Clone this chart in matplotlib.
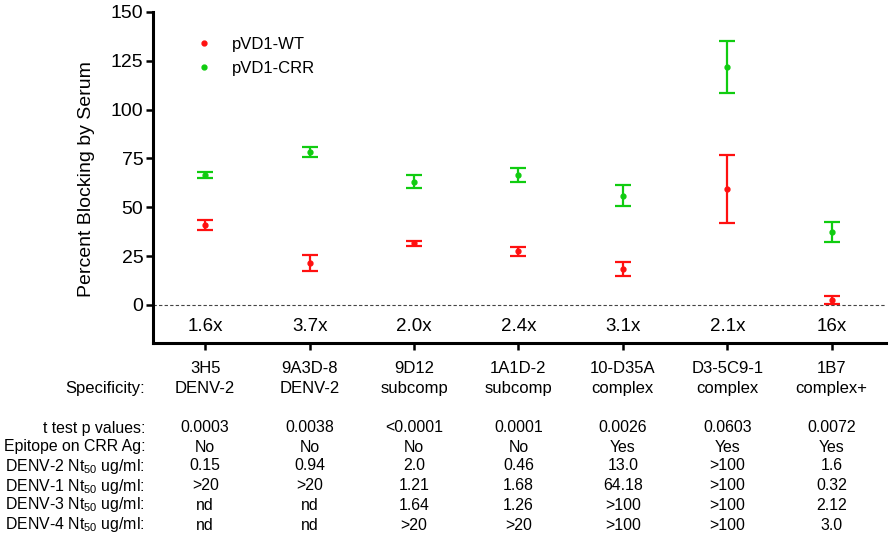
import matplotlib
matplotlib.use("Agg")
import matplotlib.pyplot as plt
from matplotlib.transforms import blended_transform_factory

plt.rcParams['font.family'] = ['Liberation Sans', 'DejaVu Sans']
plt.rcParams['mathtext.fontset'] = 'custom'
plt.rcParams['mathtext.rm'] = 'Liberation Sans'
plt.rcParams['mathtext.it'] = 'Liberation Sans:italic'
plt.rcParams['mathtext.bf'] = 'Liberation Sans:bold'
plt.rcParams['mathtext.default'] = 'regular'

antibodies = ["3H5", "9A3D-8", "9D12", "1A1D-2", "10-D35A", "D3-5C9-1", "1B7"]
specificity = ["DENV-2", "DENV-2", "subcomp", "subcomp", "complex", "complex", "complex+"]
fold = ["1.6x", "3.7x", "2.0x", "2.4x", "3.1x", "2.1x", "16x"]

wt_mean = [41.0, 21.5, 31.5, 27.5, 18.5, 59.5, 2.5]
wt_err = [2.5, 4.3, 1.2, 2.2, 3.7, 17.3, 2.1]
crr_mean = [66.5, 78.5, 63.0, 66.5, 56.0, 122.0, 37.5]
crr_err = [1.7, 2.6, 3.3, 3.4, 5.6, 13.4, 5.1]

row_labels = ["t test p values:", "Epitope on CRR Ag:",
              "DENV-2 Nt$_{50}$ ug/ml:", "DENV-1 Nt$_{50}$ ug/ml:",
              "DENV-3 Nt$_{50}$ ug/ml:", "DENV-4 Nt$_{50}$ ug/ml:"]
p_values = ["0.0003", "0.0038", "<0.0001", "0.0001", "0.0026", "0.0603", "0.0072"]
epitope = ["No", "No", "No", "No", "Yes", "Yes", "Yes"]
denv2_nt50 = ["0.15", "0.94", "2.0", "0.46", "13.0", ">100", "1.6"]
denv1_nt50 = [">20", ">20", "1.21", "1.68", "64.18", ">100", "0.32"]
denv3_nt50 = ["nd", "nd", "1.64", "1.26", ">100", ">100", "2.12"]
denv4_nt50 = ["nd", "nd", ">20", ">20", ">100", ">100", "3.0"]

RED = "#ff1010"
GREEN = "#10cc10"

W, H = 892, 548
fig = plt.figure(figsize=(W / 100, H / 100), dpi=100)
ax = fig.add_axes([153 / W, 1 - 343 / H, (886 - 153) / W, (343 - 12) / H])

x = list(range(len(antibodies)))

ax.errorbar(x, wt_mean, yerr=wt_err, fmt='none', ecolor=RED, elinewidth=1.6,
            capsize=5.5, capthick=1.6, zorder=3)
ax.errorbar(x, crr_mean, yerr=crr_err, fmt='none', ecolor=GREEN, elinewidth=1.6,
            capsize=5.5, capthick=1.6, zorder=3)
ax.plot(x, wt_mean, 'o', color=RED, markersize=3.5, linestyle='none', label="pVD1-WT", zorder=4)
ax.plot(x, crr_mean, 'o', color=GREEN, markersize=3.5, linestyle='none', label="pVD1-CRR", zorder=4)

ax.axhline(0, color='#444444', lw=0.8, ls=(0, (3, 2)), zorder=1)

ax.set_xlim(-0.5, 6.52)
ax.set_ylim(-19.5, 150)
ax.set_yticks([0, 25, 50, 75, 100, 125, 150])
ax.tick_params(axis='y', labelsize=14, length=5, width=1.8, pad=2)
ax.set_xticks(x)
ax.set_xticklabels([f"{a}\n{s}" for a, s in zip(antibodies, specificity)],
                   fontsize=12, linespacing=1.45)
ax.tick_params(axis='x', length=5, width=1.8, pad=8)

for s in ['top', 'right']:
    ax.spines[s].set_visible(False)
for s in ['left', 'bottom']:
    ax.spines[s].set_linewidth(2.2)

ax.set_ylabel("Percent Blocking by Serum", fontsize=14)
ax.yaxis.set_label_coords(-0.079, 0.495)

for xi, f in zip(x, fold):
    ax.text(xi, -11, f, ha='center', va='center', fontsize=13.5)

leg = ax.legend(loc='upper left', bbox_to_anchor=(0.04, 0.97), frameon=False,
                fontsize=12, handlelength=0.8, handletextpad=1.3,
                labelspacing=0.55, markerscale=1.0)

# Specificity label
fig.text(145 / W, 1 - 389 / H, "Specificity:", ha='right', va='center', fontsize=12)

# Table
trans = blended_transform_factory(ax.transData, fig.transFigure)
rows_y = [428, 447, 466, 486, 505, 525]
rows = [p_values, epitope, denv2_nt50, denv1_nt50, denv3_nt50, denv4_nt50]
for lab, yy, vals in zip(row_labels, rows_y, rows):
    fig.text(145 / W, 1 - yy / H, lab, ha='right', va='center', fontsize=11.4)
    for xi, v in zip(x, vals):
        ax.text(xi, 1 - yy / H, v, transform=trans, ha='center', va='center',
                fontsize=11.4)

fig.savefig("out.png", dpi=100)
